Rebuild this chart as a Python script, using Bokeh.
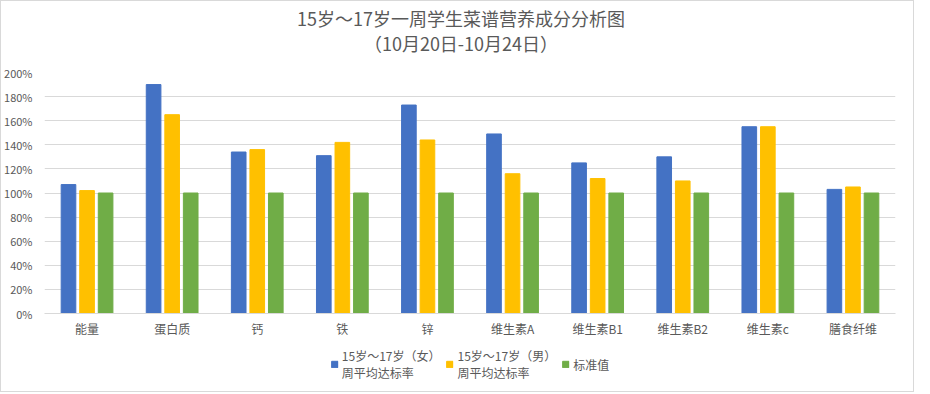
from bokeh.plotting import figure
from bokeh.layouts import column
from bokeh.models import (FactorRange, Range1d, Div, Legend, LegendItem,
                          NumeralTickFormatter, SingleIntervalTicker, ColumnDataSource)
from bokeh.transform import dodge
from bokeh.embed import file_html
from bokeh.resources import INLINE

categories = ["能量", "蛋白质", "钙", "铁", "锌", "维生素A", "维生素B1", "维生素B2", "维生素c", "膳食纤维"]
female = [107, 190, 134, 131, 173, 149, 125, 130, 155, 103]
male = [102, 165, 136, 142, 144, 116, 112, 110, 155, 105]
standard = [100, 100, 100, 100, 100, 100, 100, 100, 100, 100]
series_names = ["15岁～17岁（女）\n周平均达标率", "15岁～17岁（男）\n周平均达标率", "标准值"]
colors = ["#4472C4", "#FFC000", "#70AD47"]
title_lines = ["15岁～17岁一周学生菜谱营养成分分析图", "（10月20日-10月24日）"]

FONT = "Noto Sans CJK SC"
GREY = "#595959"

src = ColumnDataSource(dict(cat=categories, f=[v / 100 for v in female],
                            m=[v / 100 for v in male], s=[v / 100 for v in standard]))

# title block
title = Div(text=(f'<div style="width:904px;margin-left:8px;text-align:center;font-family:\'{FONT}\';'
                  f'font-size:18px;line-height:25px;color:{GREY};padding-top:5px;">'
                  f'{title_lines[0]}<br>{title_lines[1]}</div>'),
            width=912, height=60, margin=(0, 0, 0, 0))

p = figure(width=912, height=284, output_backend="svg", toolbar_location=None,
           x_range=FactorRange(factors=categories, range_padding=0),
           y_range=Range1d(0, 2.0),
           min_border_left=42, min_border_right=0, min_border_top=11, min_border_bottom=32)
p.outline_line_color = None
p.background_fill_color = "white"
p.border_fill_color = "white"

off = 0.218
w = 0.172
renderers = [
    p.vbar(x=dodge("cat", -off, range=p.x_range), top="f", width=w, source=src, color=colors[0]),
    p.vbar(x=dodge("cat", 0, range=p.x_range), top="m", width=w, source=src, color=colors[1]),
    p.vbar(x=dodge("cat", off, range=p.x_range), top="s", width=w, source=src, color=colors[2]),
]

p.yaxis.ticker = SingleIntervalTicker(interval=0.2)
p.yaxis.formatter = NumeralTickFormatter(format="0%")
p.yaxis.axis_line_color = None
p.yaxis.major_tick_line_color = None
p.yaxis.minor_tick_line_color = None
p.yaxis.major_label_text_font = FONT
p.yaxis.major_label_text_font_size = "11px"
p.yaxis.major_label_text_color = GREY
p.yaxis.major_label_standoff = 6

p.xaxis.axis_line_color = "#d9d9d9"
p.xaxis.major_tick_line_color = None
p.xaxis.minor_tick_line_color = None
p.xaxis.major_label_text_font = FONT
p.xaxis.major_label_text_font_size = "12px"
p.xaxis.major_label_text_color = GREY
p.xaxis.major_label_standoff = 0

p.xgrid.grid_line_color = None
p.ygrid.grid_line_color = "#d9d9d9"
p.ygrid.ticker = SingleIntervalTicker(interval=0.2)

# legend strip: same data, drawn far outside the visible y range so only legend swatches show
p2 = figure(width=912, height=46, output_backend="svg", toolbar_location=None,
            x_range=FactorRange(factors=categories, range_padding=0), y_range=Range1d(10, 11),
            x_axis_location=None, y_axis_location=None,
            min_border_left=0, min_border_right=18, min_border_top=0, min_border_bottom=0)
p2.outline_line_color = None
p2.xgrid.grid_line_color = None
p2.ygrid.grid_line_color = None
proxies = [p2.vbar(x="cat", top=k, width=0.1, source=src, color=c)
           for k, c in zip(["f", "m", "s"], colors)]

legend = Legend(items=[LegendItem(label=n, renderers=[r]) for n, r in zip(series_names, proxies)],
                orientation="horizontal", location="top_center",
                label_text_font=FONT, label_text_font_size="12px", label_text_color=GREY,
                label_text_line_height=1.05,
                glyph_width=8, glyph_height=8, spacing=5, label_standoff=4,
                padding=0, margin=2, border_line_color=None, background_fill_alpha=0)
p2.add_layout(legend, "center")

layout = column(title, p, p2, spacing=0,
                styles={"border": "1px solid #d9d9d9", "background-color": "white"})

open("out.html", "w").write(file_html(layout, INLINE))
